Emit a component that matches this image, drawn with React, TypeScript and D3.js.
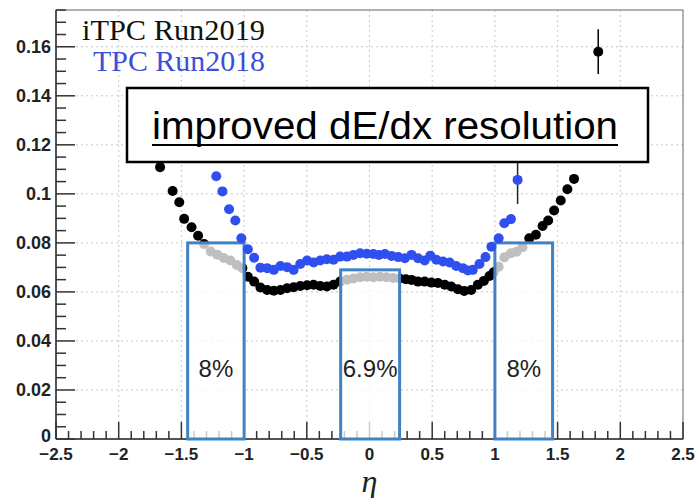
import React from "react";
import * as d3 from "d3";

const W = 697;
const H = 498;

// iTPC Run2019 (black): [eta, sigma]
const itpcEta = [-1.67, -1.57, -1.517, -1.478, -1.419, -1.367, -1.319, -1.266, -1.214, -1.162, -1.11, -1.058, -1.014, -0.97, -0.92, -0.87, -0.816, -0.763, -0.71, -0.657, -0.605, -0.552, -0.498, -0.446, -0.393, -0.34, -0.287, -0.234, -0.18, -0.128, -0.075, -0.022, 0.03, 0.083, 0.135, 0.188, 0.24, 0.29, 0.335, 0.387, 0.44, 0.494, 0.546, 0.6, 0.652, 0.705, 0.755, 0.811, 0.864, 0.912, 0.957, 0.99, 1.03, 1.075, 1.128, 1.173, 1.22, 1.274, 1.327, 1.38, 1.425, 1.472, 1.525, 1.578, 1.631];
const itpcVal = [0.1109, 0.1012, 0.0966, 0.0898, 0.0864, 0.0829, 0.0795, 0.0765, 0.0752, 0.0738, 0.0728, 0.071, 0.0697, 0.0662, 0.0642, 0.0618, 0.0608, 0.0605, 0.0608, 0.0615, 0.0619, 0.0624, 0.0627, 0.0629, 0.0624, 0.0622, 0.0629, 0.0642, 0.065, 0.0655, 0.066, 0.0662, 0.066, 0.0662, 0.066, 0.0657, 0.0655, 0.0652, 0.0649, 0.0642, 0.0642, 0.0638, 0.0636, 0.0629, 0.0622, 0.0611, 0.0604, 0.0608, 0.0629, 0.0645, 0.0665, 0.068, 0.0703, 0.0741, 0.0758, 0.0764, 0.0782, 0.0819, 0.0833, 0.0869, 0.0891, 0.0932, 0.0973, 0.1019, 0.1061];
const itpcOutlier = { eta: 1.824, val: 0.158, err: 0.0091 };

// TPC Run2018 (blue)
const tpcEta = [-1.222, -1.173, -1.12, -1.07, -1.022, -0.97, -0.92, -0.87, -0.816, -0.763, -0.71, -0.657, -0.605, -0.552, -0.498, -0.446, -0.393, -0.34, -0.287, -0.234, -0.18, -0.128, -0.075, -0.022, 0.03, 0.075, 0.123, 0.176, 0.229, 0.282, 0.335, 0.387, 0.44, 0.485, 0.533, 0.586, 0.639, 0.692, 0.745, 0.785, 0.824, 0.877, 0.925, 0.972, 1.03, 1.075, 1.128];
const tpcVal = [0.1072, 0.101, 0.0937, 0.0891, 0.0819, 0.0774, 0.0739, 0.0699, 0.0697, 0.069, 0.0706, 0.0701, 0.069, 0.0714, 0.0728, 0.072, 0.0728, 0.0733, 0.0731, 0.0744, 0.0744, 0.0751, 0.0758, 0.0756, 0.0755, 0.0751, 0.0755, 0.0747, 0.0742, 0.0737, 0.0751, 0.0737, 0.0728, 0.0748, 0.0731, 0.0724, 0.072, 0.0706, 0.0697, 0.0687, 0.069, 0.0714, 0.0742, 0.0784, 0.0819, 0.088, 0.0897];
const tpcOutlier = { eta: 1.181, val: 0.1057, err: 0.0098 };

// Resolution boxes
const boxX0 = [-1.45, -0.23, 1.0];
const boxX1 = [-1.0, 0.24, 1.46];
const boxTop = [0.08, 0.069, 0.08];
const boxLabels = ["8%", "6.9%", "8%"];

const xTicks = [-2.5, -2, -1.5, -1, -0.5, 0, 0.5, 1, 1.5, 2, 2.5];
const yTicks = [0, 0.02, 0.04, 0.06, 0.08, 0.1, 0.12, 0.14, 0.16];

const left = 56, right = 683, top = 10, bottom = 439;

export default function App() {
  const x = d3.scaleLinear().domain([-2.5, 2.5]).range([left, right]);
  const y = d3.scaleLinear().domain([0, 0.175]).range([bottom, top]);
  const xMinor = d3.range(-25, 26).map((i) => i / 10);
  const yMinor = d3.range(0, 36).map((i) => i * 0.005);
  const fmtX = (v: number) => (v < 0 ? "\u2212" + String(-v) : String(v));
  const fmtY = (v: number) => String(+v.toFixed(2));
  const blue = "#2f4ff0";
  const boxColor = "#3f82c5";
  const r = 5;

  return (
    <svg width={W} height={H} style={{ position: "absolute", left: 0, top: 0, background: "#fff" }}>
      <rect x={0} y={0} width={W} height={H} fill="#fff" />
      {/* grid */}
      <g stroke="#c8c8c8" strokeWidth={1} strokeDasharray="2,3">
        {xTicks.slice(1, -1).map((t) => (
          <line key={"gx" + t} x1={x(t)} x2={x(t)} y1={top} y2={bottom} />
        ))}
        {yTicks.slice(1).map((t) => (
          <line key={"gy" + t} x1={left} x2={right} y1={y(t)} y2={y(t)} />
        ))}
      </g>
      {/* frame */}
      <rect x={left} y={top} width={right - left} height={bottom - top} fill="none" stroke="#666" strokeWidth={1} />
      <line x1={left} x2={left} y1={top} y2={bottom} stroke="#333" strokeWidth={1.5} />
      <line x1={left} x2={right} y1={bottom} y2={bottom} stroke="#333" strokeWidth={1.5} />
      {/* ticks */}
      <g stroke="#333" strokeWidth={1.5}>
        {yMinor.map((t, i) => (
          <line key={"ym" + i} x1={left} x2={left + (i % 4 === 0 ? 19 : 10)} y1={y(t)} y2={y(t)} />
        ))}
        {xMinor.map((t, i) => (
          <line key={"xm" + i} x1={x(t)} x2={x(t)} y1={bottom} y2={bottom - (i % 5 === 0 ? 17 : 8)} />
        ))}
      </g>
      {/* tick labels */}
      <g fontFamily="Liberation Sans, Arial, sans-serif" fontWeight="bold" fontSize={18} fill="#222">
        {yTicks.map((t) => (
          <text key={"yl" + t} x={left - 5} y={y(t) + (t === 0 ? 3 : 6)} textAnchor="end">
            {fmtY(t)}
          </text>
        ))}
        {xTicks.map((t) => (
          <text key={"xl" + t} x={x(t)} y={bottom + 21} textAnchor="middle" fontSize={17}>
            {fmtX(t)}
          </text>
        ))}
      </g>
      <text x={x(0)} y={492} textAnchor="middle" fontFamily="Liberation Serif, Times New Roman, serif" fontStyle="italic" fontSize={32} fill="#222">
        η
      </text>

      {/* black series */}
      <g fill="#000">
        {itpcEta.map((e, i) => (
          <circle key={"b" + i} cx={x(e)} cy={y(itpcVal[i])} r={r} />
        ))}
      </g>
      <line x1={x(itpcOutlier.eta)} x2={x(itpcOutlier.eta)} y1={y(itpcOutlier.val + itpcOutlier.err)} y2={y(itpcOutlier.val - itpcOutlier.err)} stroke="#000" strokeWidth={1.5} />
      <circle cx={x(itpcOutlier.eta)} cy={y(itpcOutlier.val)} r={r} fill="#000" />

      {/* boxes */}
      {boxX0.map((b, i) => (
        <rect key={"box" + i} x={x(b)} y={y(boxTop[i])} width={x(boxX1[i]) - x(b)} height={y(0) - y(boxTop[i])} fill="#fff" fillOpacity={0.75} stroke={boxColor} strokeWidth={3} />
      ))}
      {boxX0.map((b, i) => (
        <text key={"bl" + i} x={(x(b) + x(boxX1[i])) / 2} y={377} textAnchor="middle" fontFamily="Liberation Sans, Arial, sans-serif" fontSize={24} fill="#222">
          {boxLabels[i]}
        </text>
      ))}

      {/* blue series */}
      <line x1={x(tpcOutlier.eta)} x2={x(tpcOutlier.eta)} y1={y(tpcOutlier.val + tpcOutlier.err)} y2={y(tpcOutlier.val - tpcOutlier.err)} stroke="#222" strokeWidth={1.5} />
      <g fill={blue}>
        {tpcEta.map((e, i) => (
          <circle key={"t" + i} cx={x(e)} cy={y(tpcVal[i])} r={r} />
        ))}
        <circle cx={x(tpcOutlier.eta)} cy={y(tpcOutlier.val)} r={r} />
      </g>

      {/* legend */}
      <text x={82} y={40} fontFamily="Liberation Serif, Times New Roman, serif" fontSize={29} fill="#111" textLength={183} lengthAdjust="spacingAndGlyphs">
        iTPC Run2019
      </text>
      <text x={93} y={71} fontFamily="Liberation Serif, Times New Roman, serif" fontSize={29} fill="#3a4fd6" textLength={172} lengthAdjust="spacingAndGlyphs">
        TPC Run2018
      </text>

      {/* annotation box */}
      <rect x={127} y={88} width={521} height={74} fill="#fff" stroke="#000" strokeWidth={2.5} />
      <text x={152} y={139} fontFamily="Liberation Sans, Arial, sans-serif" fontSize={38} fill="#000" textLength={466} lengthAdjust="spacingAndGlyphs">
        improved dE/dx resolution
      </text>
      <line x1={152} x2={618} y1={145} y2={145} stroke="#000" strokeWidth={2.2} />
    </svg>
  );
}
